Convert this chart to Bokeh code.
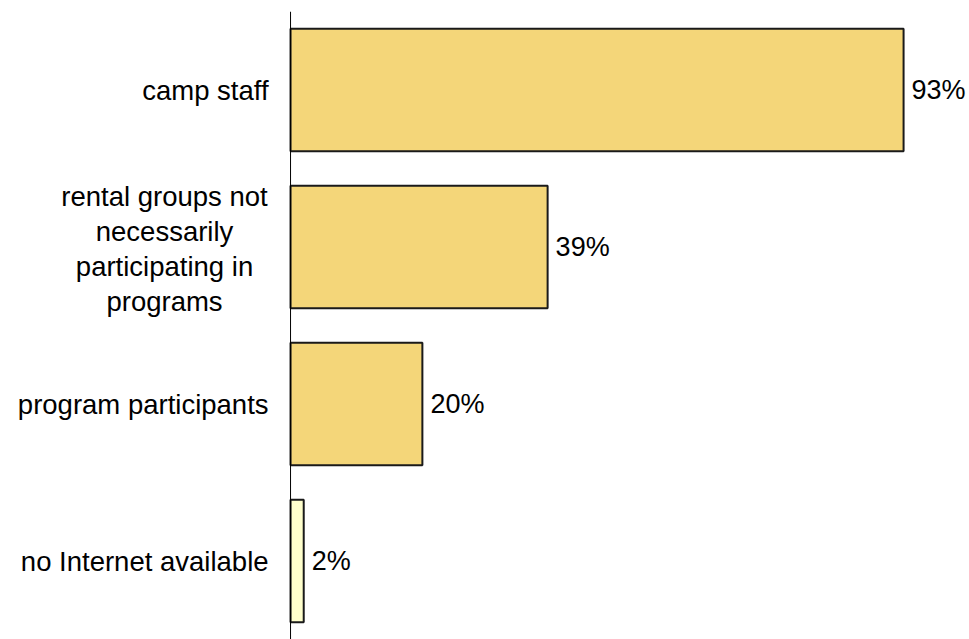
from bokeh.plotting import figure
from bokeh.models import FactorRange, Range1d, ColumnDataSource, Span
from bokeh.core.properties import value
from bokeh.embed import file_html
from bokeh.resources import INLINE

categories = ["camp staff",
              "rental groups not\nnecessarily\nparticipating in\nprograms",
              "program participants",
              "no Internet available"]
values = [93, 39, 20, 2]
colors = ["#F4D679", "#F4D679", "#F4D679", "#FFFFCC"]
labels = [f"{v}%" for v in values]

src = ColumnDataSource(dict(cat=categories, val=values, color=colors, label=labels))

single = [c for c in categories if "\n" not in c]
multi = [c for c in categories if "\n" in c]

p = figure(width=969, height=639, output_backend="svg", toolbar_location=None,
           y_range=FactorRange(*categories[::-1], range_padding=0),
           x_range=Range1d(-44, 103),
           min_border_left=0, min_border_right=0, min_border_top=11, min_border_bottom=0)

p.hbar(y="cat", right="val", left=0, height=0.78, fill_color="color",
       line_color="#1a1a1a", line_width=2, source=src)
p.text(x="val", y="cat", text="label", source=src, x_offset=8,
       text_baseline="middle", text_align="left", text_font_size="27px",
       text_font=value("Liberation Sans"), text_color="#000000")

# category labels
p.text(x=[0] * len(single), y=single, text=single, x_offset=-22,
       text_baseline="middle", text_align="right", text_font_size="27.5px",
       text_font=value("Liberation Sans"), text_color="#000000")
p.text(x=[0] * len(multi), y=multi, text=multi, x_offset=-126, y_offset=2,
       text_baseline="middle", text_align="center", text_font_size="27.5px",
       text_line_height=1.13,
       text_font=value("Liberation Sans"), text_color="#000000")

p.add_layout(Span(location=0, dimension="height", line_color="#000000", line_width=1))

p.xaxis.visible = False
p.yaxis.visible = False
p.xgrid.visible = False
p.ygrid.visible = False
p.outline_line_color = None

open("out.html", "w").write(file_html(p, INLINE))
